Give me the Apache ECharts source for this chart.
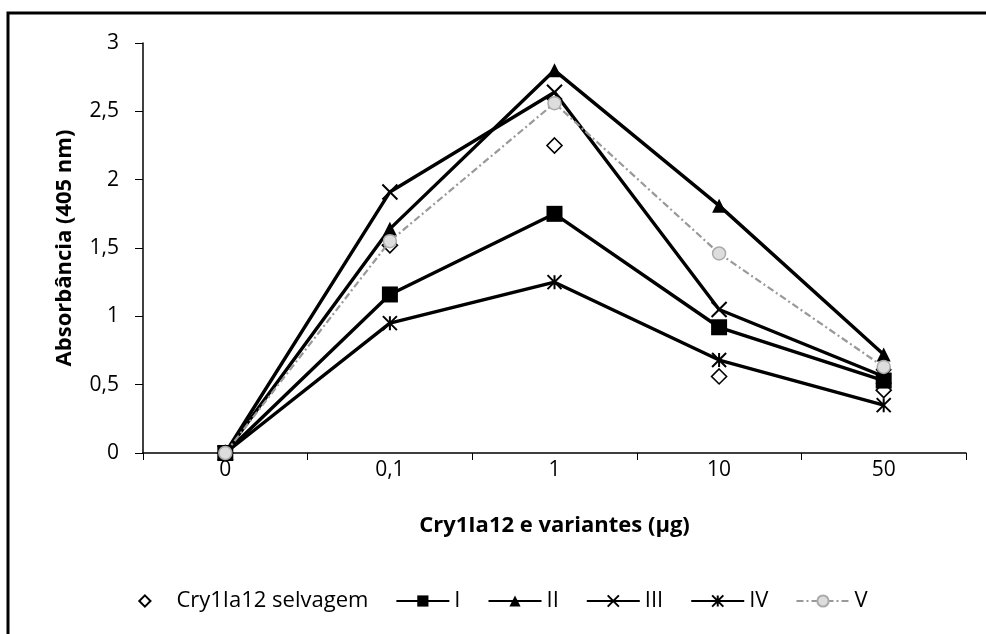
<!DOCTYPE html>
<html><head><meta charset="utf-8">
<script src="https://cdn.jsdelivr.net/npm/echarts@6/dist/echarts.min.js"></script>
<style>html,body{margin:0;padding:0;background:#fff}#c{width:986px;height:634px}</style>
</head><body><div id="c"></div>
<script>
const categories = ['0', '0,1', '1', '10', '50'];
const selvagem = [0, 1.52, 2.25, 0.56, 0.46];
const serI = [0, 1.16, 1.75, 0.92, 0.53];
const serII = [0, 1.64, 2.80, 1.81, 0.72];
const serIII = [0, 1.91, 2.64, 1.05, 0.56];
const serIV = [0, 0.95, 1.25, 0.68, 0.35];
const serV = [0, 1.55, 2.56, 1.46, 0.63];
const seriesNames = ['Cry1Ia12 selvagem', 'I', 'II', 'III', 'IV', 'V'];

const FONT = 'Open Sans';
const chart = echarts.init(document.getElementById('c'), null, {renderer: 'canvas'});
const blackLine = {color: '#000', width: 3.4};
const X_PATH = 'path://M0,0L10,10M10,0L0,10';
const AST_PATH = 'path://M5,0L5,10M0,0L10,10M10,0L0,10';

chart.setOption({
  animation: false,
  backgroundColor: '#fff',
  graphic: [{
    type: 'rect', shape: {x: 8, y: 13, width: 1100, height: 700},
    style: {fill: 'none', stroke: '#000', lineWidth: 3}, silent: true
  }],
  grid: {left: 143, right: 20, top: 43, bottom: 181, containLabel: false},
  xAxis: {
    type: 'category', data: categories, boundaryGap: true,
    name: 'Cry1Ia12 e variantes (µg)', nameLocation: 'middle', nameGap: 62,
    nameTextStyle: {fontFamily: FONT, fontSize: 22, fontWeight: 'bold', color: '#000'},
    axisLine: {lineStyle: {color: '#000', width: 1.5}},
    axisTick: {show: true, alignWithLabel: false, length: 7, lineStyle: {color: '#000'}},
    axisLabel: {fontFamily: FONT, fontSize: 21, color: '#000', margin: 7},
    splitLine: {show: false}
  },
  yAxis: {
    type: 'value', min: 0, max: 3, interval: 0.5,
    name: 'Absorbância (405 nm)', nameLocation: 'middle', nameGap: 67, nameRotate: 90,
    nameTextStyle: {fontFamily: FONT, fontSize: 22, fontWeight: 'bold', color: '#000'},
    axisLine: {show: true, lineStyle: {color: '#000', width: 1.5}},
    axisTick: {show: true, length: 8, lineStyle: {color: '#000'}},
    axisLabel: {fontFamily: FONT, fontSize: 21, color: '#000', margin: 24,
      formatter: v => String(v).replace('.', ',')},
    splitLine: {show: false}
  },
  legend: {
    bottom: 17, left: 'center', itemWidth: 53, itemHeight: 14, itemGap: 27,
    textStyle: {fontFamily: FONT, fontSize: 22, color: '#000'},
    data: seriesNames
  },
  series: [
    {name: seriesNames[0], type: 'line', data: selvagem, symbol: 'diamond', symbolSize: 15,
      lineStyle: {opacity: 0, width: 0},
      itemStyle: {color: '#fff', borderColor: '#000', borderWidth: 1.6}, z: 2},
    {name: seriesNames[1], type: 'line', data: serI, symbol: 'rect', symbolSize: 16,
      lineStyle: blackLine, itemStyle: {color: '#000', borderColor: '#000', borderWidth: 0}, z: 3},
    {name: seriesNames[2], type: 'line', data: serII, symbol: 'triangle', symbolSize: 14,
      lineStyle: blackLine, itemStyle: {color: '#000', borderColor: '#000', borderWidth: 0}, z: 3},
    {name: seriesNames[3], type: 'line', data: serIII, symbol: X_PATH, symbolSize: 15,
      lineStyle: blackLine, itemStyle: {color: 'none', borderColor: '#000', borderWidth: 2}, z: 3},
    {name: seriesNames[4], type: 'line', data: serIV, symbol: AST_PATH, symbolSize: 14,
      lineStyle: blackLine, itemStyle: {color: 'none', borderColor: '#000', borderWidth: 2}, z: 3},
    {name: seriesNames[5], type: 'line', data: serV, symbol: 'circle', symbolSize: 13,
      lineStyle: {color: '#999', width: 2.2, type: [7, 3, 2, 3]},
      itemStyle: {color: '#ddd', borderColor: '#aaa', borderWidth: 1.5}, z: 4}
  ]
});
</script></body></html>
